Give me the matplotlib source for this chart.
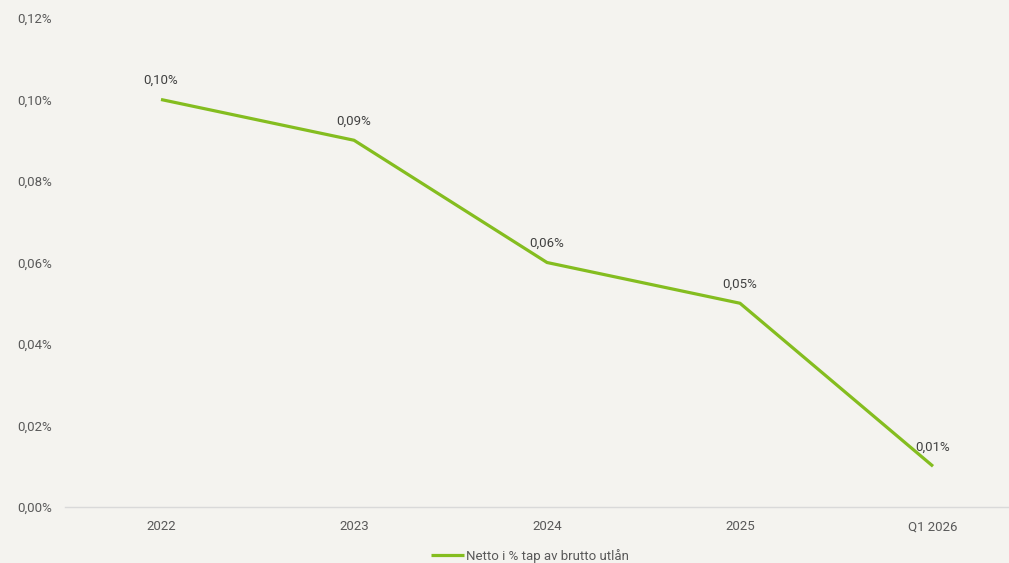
import matplotlib
matplotlib.use("Agg")
import matplotlib.pyplot as plt
from matplotlib.ticker import FuncFormatter

# data
kategorier = ["2022", "2023", "2024", "2025", "Q1 2026"]
netto_tap = [0.10, 0.09, 0.06, 0.05, 0.01]
y_ticks = [0.00, 0.02, 0.04, 0.06, 0.08, 0.10, 0.12]
serie_navn = "Netto i % tap av brutto utlån"

bg = "#F4F3EF"
gronn = "#84BD1F"
tekst = "#595959"

plt.rcParams["font.family"] = ["Roboto", "DejaVu Sans"]

fig = plt.figure(figsize=(10.09, 5.63), dpi=100, facecolor=bg)
ax = fig.add_axes([64.5 / 1009, 56 / 563, 965 / 1009, 489 / 563], facecolor=bg)

x = list(range(len(kategorier)))
line, = ax.plot(x, netto_tap, color=gronn, lw=2.3, solid_capstyle="butt",
                label=serie_navn)
for xi, v in zip(x, netto_tap):
    ax.annotate(f"{v:.2f}%".replace(".", ","), (xi, v), xytext=(0, 9),
                textcoords="offset points", ha="center", va="bottom",
                fontsize=9.5, color="#404040")

ax.set_xlim(-0.5, 4.5)
ax.set_ylim(0, 0.12)
ax.set_xticks(x)
ax.set_xticklabels(kategorier)
ax.set_yticks(y_ticks)
ax.yaxis.set_major_formatter(FuncFormatter(lambda v, p: f"{v:.2f}%".replace(".", ",")))
ax.tick_params(length=0, labelsize=9.5, labelcolor=tekst)
ax.tick_params(axis="y", pad=9)
ax.tick_params(axis="x", pad=9.5)
for s in ["top", "right", "left"]:
    ax.spines[s].set_visible(False)
ax.spines["bottom"].set_color("#D9D9D9")
ax.spines["bottom"].set_linewidth(1)

fig.legend(handles=[line], loc="center", bbox_to_anchor=(530 / 1009, 7 / 563),
           frameon=False, fontsize=9.5, labelcolor=tekst, handlelength=2.5,
           handletextpad=0.1)

fig.savefig("out.png", dpi=100, facecolor=bg)
